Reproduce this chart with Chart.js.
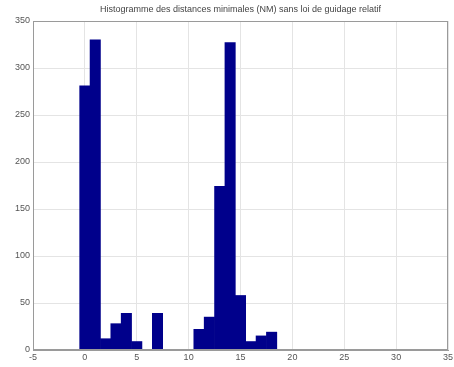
<!DOCTYPE html>
<html>
<head>
<meta charset="utf-8">
<script src="https://cdn.jsdelivr.net/npm/chart.js@4/dist/chart.umd.min.js"></script>
<style>
    html, body { margin: 0; padding: 0; background: #fff; }
    #wrap { width: 454px; height: 367px; }
</style>
</head>
<body>
<div id="wrap"><canvas id="histChart" width="454" height="367"></canvas></div>
<script>
/* Données du graphique */
const binCenters = [0, 1, 2, 3, 4, 5, 6, 7, 8, 9, 10, 11, 12, 13, 14, 15, 16, 17, 18];
const counts = [281, 330, 12, 28, 39, 9, 0, 39, 0, 0, 0, 22, 35, 174, 327, 58, 9, 15, 19];
const xTicks = [-5, 0, 5, 10, 15, 20, 25, 30, 35];
const yTicks = [0, 50, 100, 150, 200, 250, 300, 350];
const titleText = 'Histogramme des distances minimales (NM) sans loi de guidage relatif';

// Cadre autour de la zone du graphique + titre centré sur la zone (style MATLAB)
const boxPlugin = {
    id: 'box',
    afterDraw(chart) {
        const { ctx, chartArea } = chart;
        ctx.save();
        ctx.strokeStyle = '#9a9a9a';
        ctx.lineWidth = 1;
        ctx.strokeRect(chartArea.left + 0.5, chartArea.top + 0.5,
            chartArea.right - chartArea.left - 1, chartArea.bottom - chartArea.top - 1);

        ctx.fillStyle = '#444';
        ctx.font = '9px "Liberation Sans"';
        ctx.textAlign = 'center';
        ctx.textBaseline = 'middle';
        ctx.fillText(titleText, (chartArea.left + chartArea.right) / 2, 10);
        ctx.restore();
    }
};

const tickFont = { family: 'Liberation Sans', size: 9 };

new Chart(document.getElementById('histChart'), {
    type: 'bar',
    data: {
        datasets: [{
            data: binCenters.map((x, i) => ({ x: x, y: counts[i] })),
            backgroundColor: '#00008b',
            borderWidth: 0,
            barPercentage: 1,
            categoryPercentage: 1
        }]
    },
    options: {
        responsive: false,
        animation: false,
        layout: { padding: { left: 0, right: 0, top: 21, bottom: 0 } },
        plugins: {
            legend: { display: false },
            tooltip: { enabled: false },
            title: { display: false }
        },
        scales: {
            x: {
                type: 'linear',
                offset: false,
                min: xTicks[0],
                max: xTicks[xTicks.length - 1],
                afterBuildTicks: axis => { axis.ticks = xTicks.map(v => ({ value: v })); },
                afterFit: axis => { axis.height = 17; axis.paddingRight = 6; },
                ticks: { color: '#555', font: tickFont, padding: 2, maxRotation: 0 },
                grid: { color: '#e4e4e4', tickLength: 0, offset: false },
                border: { color: '#9a9a9a' }
            },
            y: {
                min: yTicks[0],
                max: yTicks[yTicks.length - 1],
                afterBuildTicks: axis => { axis.ticks = yTicks.map(v => ({ value: v })); },
                afterFit: axis => { axis.width = 33; },
                ticks: { color: '#555', font: tickFont, padding: 3 },
                grid: { color: '#e4e4e4', tickLength: 0 },
                border: { color: '#9a9a9a' }
            }
        }
    },
    plugins: [boxPlugin]
});
</script>
</body>
</html>
